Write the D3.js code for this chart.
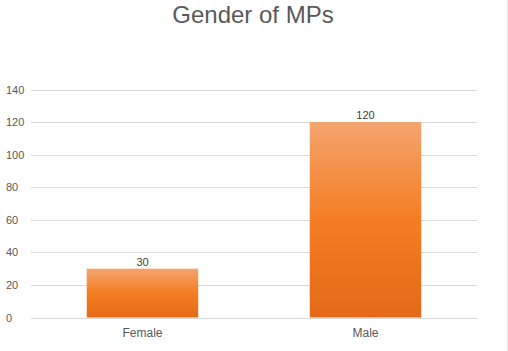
<!DOCTYPE html>
<html lang="en">
<head>
<meta charset="utf-8">
<title>Gender of MPs</title>
<script src="https://d3js.org/d3.v7.min.js"></script>
<style>
  body{margin:0;background:#fff;}
  svg{display:block;font-family:"Liberation Sans",Arial,sans-serif;}
</style>
</head>
<body>
<div id="chart"></div>
<script>
// chart data
var categories = ["Female", "Male"]
var values = [30, 120]
var yTicks = [0, 20, 40, 60, 80, 100, 120, 140]

var w = 508, h = 351
var plotLeft = 31, plotRight = 477, plotTop = 89.5, plotBottom = 317.5

var svg = d3.select("#chart").append("svg")
    .attr("width", w)
    .attr("height", h)

var grad = svg.append("defs").append("linearGradient")
    .attr("id", "barGrad")
    .attr("x1", 0).attr("y1", 0).attr("x2", 0).attr("y2", 1)
grad.append("stop").attr("offset", "0%").attr("stop-color", "#f3a56f")
grad.append("stop").attr("offset", "50%").attr("stop-color", "#f57d22")
grad.append("stop").attr("offset", "100%").attr("stop-color", "#e36a18")

var x = d3.scaleBand().domain(categories).range([plotLeft, plotRight]).paddingInner(0.5).paddingOuter(0.25)
var y = d3.scaleLinear().domain([0, 140]).range([plotBottom, plotTop])

// title
svg.append("text")
    .attr("x", 253).attr("y", 22.5)
    .attr("text-anchor", "middle")
    .attr("font-size", 24)
    .attr("fill", "#595959")
    .text("Gender of MPs")

// gridlines
svg.append("g").selectAll("line")
    .data(yTicks)
    .enter().append("line")
    .attr("x1", plotLeft).attr("x2", plotRight)
    .attr("y1", function(d){ return Math.round(y(d)) + 0.5 })
    .attr("y2", function(d){ return Math.round(y(d)) + 0.5 })
    .attr("stroke", "#d9d9d9")
    .attr("stroke-width", 1)

// y tick labels
svg.append("g").selectAll("text")
    .data(yTicks)
    .enter().append("text")
    .attr("x", 6)
    .attr("y", function(d){ return y(d) + 4 })
    .attr("font-size", 11)
    .attr("fill", "#595959")
    .text(function(d){ return d })

// bars
svg.append("g").selectAll("rect")
    .data(values)
    .enter().append("rect")
    .attr("x", function(d, i){ return x(categories[i]) })
    .attr("y", function(d){ return y(d) })
    .attr("width", x.bandwidth())
    .attr("height", function(d){ return y(0) - y(d) })
    .attr("fill", "url(#barGrad)")

// value labels
svg.append("g").selectAll("text")
    .data(values)
    .enter().append("text")
    .attr("x", function(d, i){ return x(categories[i]) + x.bandwidth() / 2 })
    .attr("y", function(d){ return y(d) - 3 })
    .attr("text-anchor", "middle")
    .attr("font-size", 11)
    .attr("fill", "#404040")
    .text(function(d){ return d })

// category labels
svg.append("g").selectAll("text")
    .data(categories)
    .enter().append("text")
    .attr("x", function(d){ return x(d) + x.bandwidth() / 2 })
    .attr("y", 337)
    .attr("text-anchor", "middle")
    .attr("font-size", 12)
    .attr("fill", "#595959")
    .text(function(d){ return d })

// faint right border
svg.append("line")
    .attr("x1", 507.5).attr("x2", 507.5)
    .attr("y1", 0).attr("y2", h)
    .attr("stroke", "#e6e6e6")
</script>
</body>
</html>
